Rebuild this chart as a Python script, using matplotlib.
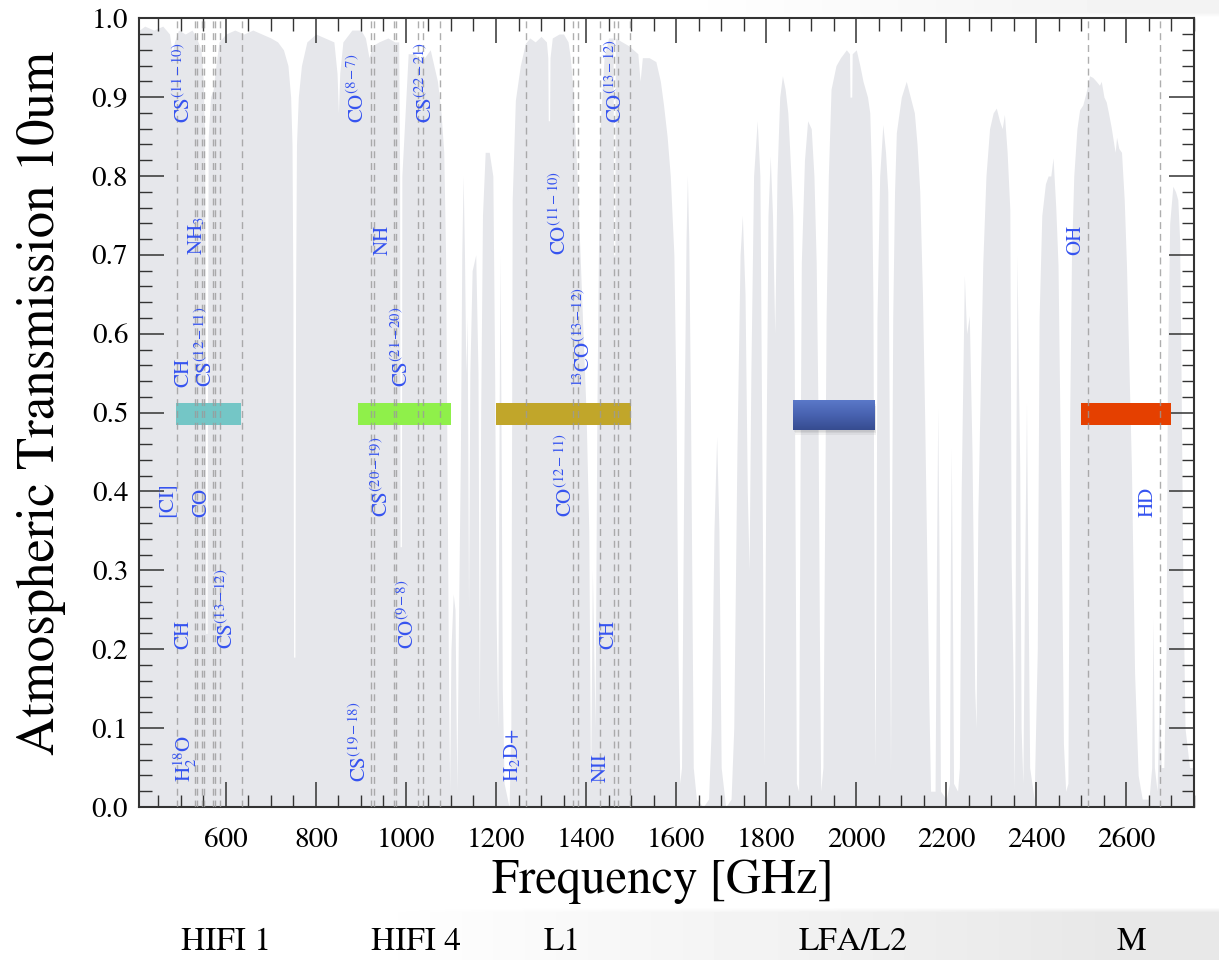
import numpy as np
import matplotlib
matplotlib.use("Agg")
import matplotlib.pyplot as plt
from matplotlib.patches import Rectangle
from matplotlib.ticker import MultipleLocator, FormatStrFormatter
import matplotlib.transforms as mtransforms

plt.rcParams['font.family'] = ['STIXGeneral', 'DejaVu Serif']
plt.rcParams['mathtext.fontset'] = 'stix'

# atmospheric transmission (GHz, fraction)
freq = [408, 420, 440, 460, 475, 481, 486, 495, 510, 525, 535, 545, 550, 553,
        554.5, 555.5, 558.5, 559.5, 561, 566, 572, 578, 585, 600, 620, 640, 660, 680,
        700, 715, 728, 738, 744, 747, 749, 750.5, 753.5, 755, 757, 761,
        768, 780, 800, 820, 840, 847, 850, 853, 860, 880, 900, 910, 918, 925,
        940, 960, 975, 984, 986, 987, 990, 991, 1005, 1020, 1035, 1054,
        1062, 1070, 1078, 1084, 1088, 1091, 1094, 1097, 1100, 1105, 1109,
        1113, 1117, 1121, 1124, 1127, 1130, 1133, 1136, 1139, 1142, 1147,
        1155, 1160, 1163, 1166, 1170, 1176, 1185, 1193, 1197, 1200, 1204,
        1207, 1209, 1211, 1214, 1218, 1229, 1233, 1236, 1243, 1254, 1265,
        1275, 1287, 1300, 1312, 1315, 1316, 1319, 1320, 1325, 1340, 1350, 1360,
        1365, 1372, 1380, 1390, 1400, 1406, 1410, 1414, 1420, 1424, 1430,
        1440, 1450, 1460, 1461, 1464, 1465, 1480, 1495, 1505, 1515, 1520, 1525,
        1540, 1555, 1565, 1572, 1580, 1587, 1595, 1600, 1604, 1608, 1612,
        1618, 1622, 1625, 1628, 1632, 1638, 1645, 1660, 1672, 1678, 1684,
        1690, 1695, 1700, 1710, 1722, 1728, 1735, 1742, 1747, 1753, 1758,
        1762, 1766, 1772, 1780, 1786, 1791, 1795, 1799, 1804, 1809, 1814,
        1819, 1824, 1830, 1836, 1842, 1848, 1855, 1859, 1862, 1864, 1867,
        1872, 1875, 1878, 1885, 1892, 1900, 1906, 1911, 1915, 1918, 1921,
        1926, 1929, 1933, 1938, 1944, 1955, 1965, 1978, 1985, 1986, 1990, 1991,
        2000, 2008, 2015, 2025, 2030, 2034, 2037, 2040, 2042, 2044, 2046,
        2052, 2059, 2065, 2070, 2073, 2076, 2078, 2081, 2085, 2089, 2100,
        2111, 2120, 2129, 2135, 2141, 2147, 2152, 2157, 2161, 2165, 2175,
        2178, 2181, 2184, 2187, 2200, 2207, 2209, 2211, 2213, 2216, 2225,
        2229, 2233, 2240, 2245, 2251, 2257, 2263, 2266, 2270, 2276, 2281,
        2288, 2296, 2304, 2311, 2318, 2324, 2329, 2335, 2341, 2344, 2348,
        2351, 2354, 2357, 2360, 2363, 2366, 2370, 2374, 2378, 2381, 2385,
        2395, 2402, 2406, 2412, 2420, 2426, 2432, 2437, 2443, 2448, 2452,
        2455, 2460, 2465, 2470, 2474, 2478, 2483, 2490, 2496, 2503, 2510,
        2518, 2525, 2533, 2540, 2544, 2550, 2555, 2560, 2566, 2572, 2575,
        2578, 2583, 2589, 2595, 2600, 2605, 2611, 2618, 2626, 2635, 2650,
        2656, 2659, 2662, 2668, 2673, 2677, 2683, 2688, 2691, 2696, 2703,
        2709, 2714, 2718, 2721, 2725, 2730, 2740, 2750]
trans = [0.985, 0.99, 0.985, 0.99, 0.98, 0.955, 0.97, 0.985, 0.98, 0.985, 0.975,
         0.96, 0.92, 0.85, 0.6, 0.22, 0.22, 0.6, 0.85, 0.9, 0.91, 0.94, 0.97, 0.98,
         0.985, 0.98, 0.985, 0.98, 0.975, 0.97, 0.96, 0.94, 0.9, 0.84, 0.65,
         0.19, 0.19, 0.65, 0.84, 0.9, 0.94, 0.97, 0.98, 0.975, 0.97,
         0.93, 0.88, 0.93, 0.97, 0.985, 0.985, 0.975, 0.95, 0.965, 0.97,
         0.975, 0.97, 0.97, 0.8, 0.33, 0.33, 0.8, 0.955, 0.955, 0.945, 0.96,
         0.94, 0.92, 0.88, 0.83, 0.7, 0.45, 0.2, 0.02, 0.2, 0.27, 0.25,
         0.02, 0.25, 0.45, 0.7, 0.80, 0.7, 0.55, 0.62, 0.25, 0.55, 0.68,
         0.70, 0.55, 0.1, 0.5, 0.75, 0.83, 0.83, 0.8, 0.55, 0.25, 0.1,
         0.5, 0.7, 0.5, 0.15, 0.03, 0.0, 0.1, 0.77, 0.896, 0.94, 0.968,
         0.975, 0.97, 0.977, 0.97, 0.95, 0.87, 0.87, 0.95, 0.975, 0.98, 0.98, 0.97,
         0.95, 0.9, 0.8, 0.65, 0.5, 0.35, 0.02, 0.3, 0.1, 0.5, 0.85,
         0.95, 0.975, 0.975, 0.7, 0.7, 0.975, 0.97, 0.965, 0.96, 0.955, 0.92, 0.95,
         0.95, 0.945, 0.92, 0.89, 0.85, 0.80, 0.7, 0.5, 0.2, 0.03, 0.05,
         0.5, 0.72, 0.80, 0.72, 0.5, 0.05, 0.01, 0.0, 0.01, 0.1, 0.35,
         0.47, 0.35, 0.05, 0.0, 0.01, 0.1, 0.45, 0.7, 0.75, 0.65, 0.4,
         0.3, 0.55, 0.8, 0.87, 0.8, 0.4, 0.05, 0.4, 0.75, 0.825, 0.75,
         0.6, 0.8, 0.9, 0.927, 0.91, 0.88, 0.8, 0.75, 0.6, 0.37, 0.03,
         0.02, 0.4, 0.69, 0.82, 0.87, 0.86, 0.8, 0.69, 0.5, 0.23, 0.02,
         0.05, 0.3, 0.62, 0.8, 0.91, 0.94, 0.95, 0.96, 0.955, 0.9, 0.9, 0.955,
         0.96, 0.94, 0.92, 0.9, 0.88, 0.8, 0.64, 0.2, 0.05, 0.3, 0.62,
         0.8, 0.865, 0.83, 0.78, 0.5, 0.04, 0.3, 0.62, 0.78, 0.855, 0.9,
         0.92, 0.9, 0.88, 0.84, 0.78, 0.65, 0.49, 0.3, 0.14, 0.02, 0.02,
         0.3, 0.506, 0.3, 0.02, 0.01, 0.03, 0.3, 0.455, 0.3, 0.03, 0.02,
         0.05, 0.4, 0.674, 0.6, 0.623, 0.45, 0.15, 0.1, 0.37, 0.55, 0.69,
         0.8, 0.86, 0.88, 0.886, 0.87, 0.86, 0.878, 0.83, 0.757, 0.31, 0.17,
         0.02, 0.4, 0.70, 0.55, 0.43, 0.1, 0.03, 0.3, 0.512, 0.3, 0.05,
         0.01, 0.2, 0.62, 0.75, 0.79, 0.80, 0.8, 0.823, 0.76, 0.687, 0.5,
         0.37, 0.08, 0.02, 0.03, 0.5, 0.7, 0.8, 0.86, 0.884, 0.89, 0.905,
         0.927, 0.925, 0.92, 0.915, 0.92, 0.9, 0.894, 0.88, 0.862, 0.84, 0.83,
         0.849, 0.835, 0.83, 0.77, 0.687, 0.57, 0.43, 0.17, 0.04, 0.01, 0.01,
         0.05, 0.24, 0.05, 0.02, 0.15, 0.05, 0.05, 0.2, 0.55, 0.74, 0.787,
         0.78, 0.77, 0.72, 0.56, 0.3, 0.1, 0.05, 0.05]

# rest frequencies of the marked lines (GHz)
line_freqs = [492.2, 532.7, 536.8, 547.7, 550.9, 572.5, 576.3, 587.6, 636.5,
              921.8, 929.7, 974.5, 978.5, 1027.3, 1036.9, 1076.1,
              1267.0, 1370.1, 1382.0, 1431.2, 1461.1, 1470.7, 1496.9,
              2514.3, 2675.0]

# line labels: text, x position (GHz), bottom of text (transmission)
label_text = [r'CS$^{(11-10)}$', r'NH$_3$', 'CH', r'CS$^{(12-11)}$', '[CI]', 'CO',
              'CH', r'CS$^{(13-12)}$', r'H$_2^{18}$O',
              r'CO$^{(8-7)}$', 'NH', r'CS$^{(21-20)}$', r'CS$^{(20-19)}$',
              r'CO$^{(9-8)}$', r'CS$^{(19-18)}$', r'CS$^{(22-21)}$',
              r'CO$^{(11-10)}$', r'$^{13}$CO$^{(13-12)}$', r'CO$^{(13-12)}$',
              r'CO$^{(12-11)}$', 'CH', 'NII', r'H$_2$D+', 'OH', 'HD']
label_x = [508, 536, 506, 556, 468, 547, 506, 604, 510,
           894, 948, 992, 947, 1006, 899, 1045,
           1342, 1396, 1467, 1356, 1450, 1432, 1238, 2487, 2647]
label_y = [0.867, 0.700, 0.533, 0.533, 0.368, 0.368, 0.200, 0.200, 0.032,
           0.867, 0.700, 0.533, 0.368, 0.200, 0.032, 0.867,
           0.700, 0.533, 0.867, 0.368, 0.200, 0.032, 0.032, 0.700, 0.368]

# receiver bands
band_names = ['HIFI 1', 'HIFI 4', 'L1', 'LFA/L2', 'M']
band_lo = [490, 893, 1200, 1860, 2500]
band_hi = [633, 1100, 1500, 2040, 2700]
band_colors = ['#74c6c6', '#8ff04a', '#c1a62a', '#4a66b6', '#e54000']
band_name_x = [600, 1023, 1347, 1994, 2610]

fig = plt.figure(figsize=(12.19, 9.6), dpi=100)

# slide background shading behind the chart
bg = fig.add_axes([0, 0, 1, 1], zorder=-10)
gx = np.linspace(0, 1, 244)
gy = np.linspace(0, 1, 192)
X, Y = np.meshgrid(gx, gy)
shade = np.ones_like(X)
low = Y > 0.95
shade[low] = 1 - 0.09 * np.clip((X[low] - 0.3) / 0.6, 0, 1)
top = Y < 0.015
shade[top] = 1 - 0.05 * np.clip((X[top] - 0.55) / 0.4, 0, 1)
bg.imshow(shade, cmap='gray', vmin=0, vmax=1, aspect='auto',
          extent=(0, 1, 1, 0), interpolation='bilinear')
bg.axis('off')

ax = fig.add_axes([0.1143, 0.1594, 0.8652, 0.8216])
ax.set_facecolor('white')

ax.fill_between(freq, 0, trans, color='#e6e7eb', lw=0, zorder=1)

for name, lo, hi, col in zip(band_names, band_lo, band_hi, band_colors):
    if name == 'LFA/L2':
        # soft drop shadow, then a shaded bar
        for k, a in enumerate([0.05, 0.05, 0.05]):
            d = 1.5 * (k + 1)
            ax.add_patch(Rectangle((lo + d, 0.478 - 0.002 * (k + 1)), hi - lo,
                                   0.037, facecolor='#000000', alpha=a, lw=0,
                                   zorder=2))
        grad = np.linspace(0, 1, 50)[:, None]
        cm = matplotlib.colors.LinearSegmentedColormap.from_list(
            'b', ['#5a78c8', '#4862b0', '#364c90'])
        ax.imshow(grad, cmap=cm, aspect='auto', extent=(lo, hi, 0.478, 0.515),
                  zorder=2.5, interpolation='bilinear')
    else:
        ax.add_patch(Rectangle((lo, 0.484), hi - lo, 0.028, facecolor=col,
                               lw=0, zorder=2))

ax.vlines(line_freqs, 0, 1, colors='#9a9a9a', linestyles=(0, (5, 3.5)),
          lw=1.0, alpha=0.8, zorder=3)

for t, x, y in zip(label_text, label_x, label_y):
    ax.text(x, y, t, rotation=90, ha='center', va='bottom', fontsize=15,
            color='#3553f0', zorder=4)

ax.set_xlim(408, 2750)
ax.set_ylim(0, 1.0)
ax.set_xticks(np.arange(600, 2601, 200))
ax.xaxis.set_minor_locator(MultipleLocator(50))
ax.yaxis.set_major_locator(MultipleLocator(0.1))
ax.yaxis.set_minor_locator(MultipleLocator(0.02))
ax.yaxis.set_major_formatter(FormatStrFormatter('%.1f'))
ax.tick_params(which='both', direction='in', top=True, right=True,
               color='#333333')
ax.tick_params(which='major', length=18, width=1.1, labelsize=21)
ax.tick_params(which='minor', length=9, width=1.0)
ax.tick_params(axis='x', which='major', pad=15)
ax.tick_params(axis='y', which='major', pad=8)
for s in ax.spines.values():
    s.set_linewidth(1.5)
    s.set_color('#333333')

ax.set_xlabel('Frequency [GHz]', fontsize=35)
ax.xaxis.set_label_coords(0.496, -0.066)
ax.set_ylabel('Atmospheric Transmission 10um', fontsize=38)
ax.yaxis.set_label_coords(-0.0695, 0.5115)

trans_bl = mtransforms.blended_transform_factory(ax.transData, fig.transFigure)
for name, x in zip(band_names, band_name_x):
    fig.text(x, 0.003, name, transform=trans_bl, ha='center', va='bottom',
             fontsize=24)

fig.savefig('out.png', dpi=100)
